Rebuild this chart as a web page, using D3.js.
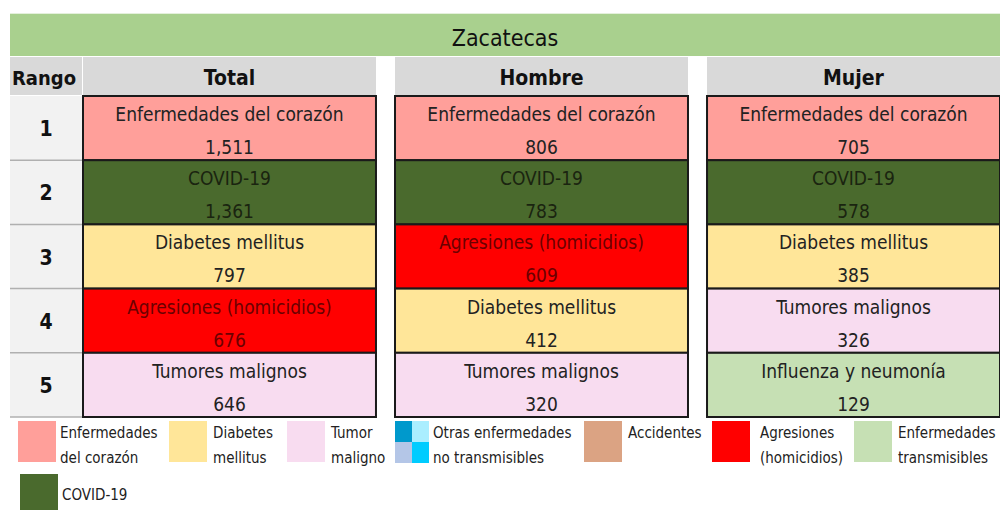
<!DOCTYPE html>
<html><head><meta charset="utf-8">
<script src="https://cdn.jsdelivr.net/npm/d3@7"></script>
<style>
html,body{margin:0;padding:0;background:#fff;}
svg text{font-family:"Liberation Sans Narrow","DejaVu Sans Condensed","Open Sans",sans-serif;}
</style></head>
<body><svg id="c" width="1000" height="510"></svg>
<script>
const title = "Zacatecas";
const ranks = [1, 2, 3, 4, 5];
const groups = ["Total", "Hombre", "Mujer"];
const totalCauses = ["Enfermedades del corazón", "COVID-19", "Diabetes mellitus", "Agresiones (homicidios)", "Tumores malignos"];
const totalValues = [1511, 1361, 797, 676, 646];
const hombreCauses = ["Enfermedades del corazón", "COVID-19", "Agresiones (homicidios)", "Diabetes mellitus", "Tumores malignos"];
const hombreValues = [806, 783, 609, 412, 320];
const mujerCauses = ["Enfermedades del corazón", "COVID-19", "Diabetes mellitus", "Tumores malignos", "Influenza y neumonía"];
const mujerValues = [705, 578, 385, 326, 129];
const legendLabels = [["Enfermedades","del corazón"],["Diabetes","mellitus"],["Tumor","maligno"],["Otras enfermedades","no transmisibles"],["Accidentes"],["Agresiones","(homicidios)"],["Enfermedades","transmisibles"],["COVID-19"]];
const legendColors = ["#ff9f9a","#ffe699","#f8dcf0","quad","#dba383","#ff0000","#c6e0b4","#4a6a2d"];

const causeColor = {
  "Enfermedades del corazón":"#ff9f9a",
  "COVID-19":"#4a6a2d",
  "Diabetes mellitus":"#ffe699",
  "Agresiones (homicidios)":"#ff0000",
  "Tumores malignos":"#f8dcf0",
  "Influenza y neumonía":"#c6e0b4"
};
const causeText = {"Agresiones (homicidios)":"#6b0000","COVID-19":"#1a2410"};

const svg = d3.select("#c");
const fmt = d3.format(",");
const x = d3.scaleBand().domain(groups).range([83, 1000]).paddingInner(0.061);
const y = d3.scaleBand().domain(ranks).range([96, 417]);

// title bar
svg.append("rect").attr("x",10).attr("y",13).attr("width",990).attr("height",43).attr("fill","#a9d08e");
svg.append("rect").attr("x",10).attr("y",13).attr("width",990).attr("height",1).attr("fill","#e4f0dc");
svg.append("text").attr("x",505).attr("y",46).attr("text-anchor","middle").attr("font-size",23).attr("fill","#111").text(title);

// header
svg.append("rect").attr("x",10).attr("y",57).attr("width",72).attr("height",38).attr("fill","#d9d9d9");
svg.append("text").attr("x",44).attr("y",85).attr("text-anchor","middle").attr("font-size",20).attr("font-weight","bold").attr("fill","#111").text("Rango");
svg.selectAll("rect.gh").data(groups).join("rect").attr("class","gh")
  .attr("x",d=>x(d)).attr("y",57).attr("width",x.bandwidth()).attr("height",38).attr("fill","#d9d9d9");
svg.selectAll("text.gh").data(groups).join("text").attr("class","gh")
  .attr("x",d=>x(d)+x.bandwidth()/2).attr("y",85).attr("text-anchor","middle")
  .attr("font-size",21).attr("font-weight","bold").attr("fill","#111").text(d=>d);

// rango column
svg.selectAll("rect.rk").data(ranks).join("rect").attr("class","rk")
  .attr("x",10).attr("y",d=>y(d)).attr("width",72).attr("height",y.bandwidth()).attr("fill","#f2f2f2");
svg.selectAll("line.rk").data(ranks).join("line").attr("class","rk")
  .attr("x1",10).attr("x2",82).attr("y1",d=>y(d)+y.bandwidth()).attr("y2",d=>y(d)+y.bandwidth())
  .attr("stroke","#b0b0b0").attr("stroke-width",1.5);
svg.selectAll("text.rk").data(ranks).join("text").attr("class","rk")
  .attr("x",46).attr("y",d=>y(d)+y.bandwidth()/2+8).attr("text-anchor","middle")
  .attr("font-size",21).attr("font-weight","bold").attr("fill","#111").text(d=>d);

// cells
const data = [];
const sets = {Total:[totalCauses,totalValues],Hombre:[hombreCauses,hombreValues],Mujer:[mujerCauses,mujerValues]};
groups.forEach(g=>{ ranks.forEach((r,i)=>data.push({g,r,cause:sets[g][0][i],value:sets[g][1][i]})); });
const cell = svg.selectAll("g.cell").data(data).join("g").attr("class","cell")
  .attr("transform",d=>`translate(${x(d.g)},${y(d.r)})`);
cell.append("rect").attr("width",x.bandwidth()).attr("height",y.bandwidth())
  .attr("fill",d=>causeColor[d.cause]).attr("stroke","#1a1a1a").attr("stroke-width",2);
cell.append("text").attr("x",x.bandwidth()/2).attr("y",25).attr("text-anchor","middle")
  .attr("font-size",19).attr("fill",d=>causeText[d.cause]||"#222").text(d=>d.cause);
cell.append("text").attr("x",x.bandwidth()/2).attr("y",58).attr("text-anchor","middle")
  .attr("font-size",19).attr("fill",d=>causeText[d.cause]||"#222").text(d=>fmt(d.value));

// legend
const legX = [18,169,287,395,584,712,854,20];
const legY = [421,421,421,421,421,421,421,474];
const lg = svg.selectAll("g.leg").data(legendLabels).join("g").attr("class","leg")
  .attr("transform",(d,i)=>`translate(${legX[i]},${legY[i]})`);
lg.each(function(d,i){
  const g = d3.select(this);
  const c = legendColors[i];
  if(c==="quad"){
    const q=[["#0099cc",0,0],["#aaeeff",17,0],["#b4c6e7",0,21],["#00ccff",17,21]];
    q.forEach(a=>g.append("rect").attr("x",a[1]).attr("y",a[2]).attr("width",17).attr("height",21).attr("fill",a[0]));
  } else {
    g.append("rect").attr("width",38).attr("height",i===7?36:41).attr("fill",c);
  }
  const tx = c==="quad"?38:(i===0||i===7?42:(i===5?48:44));
  g.selectAll("text").data(d).join("text").attr("x",tx).attr("y",(t,j)=>i===7?26:17+j*25)
    .attr("font-size",15).attr("fill","#222").text(t=>t);
});
</script></body></html>
